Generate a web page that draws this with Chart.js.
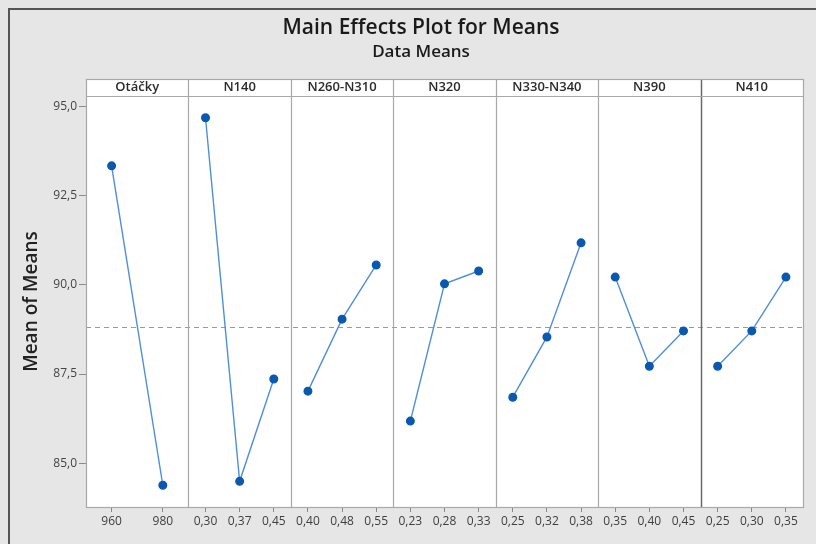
<!DOCTYPE html>
<html>
<head>
<meta charset="utf-8">
<script src="https://cdn.jsdelivr.net/npm/chart.js@4.4.1/dist/chart.umd.min.js"></script>
<style>
  html, body { margin: 0; padding: 0; background: #e6e6e6; overflow: hidden; width: 816px; height: 544px; }
  #frame { position: absolute; left: 8px; top: 8px; border-left: 2px solid #555; border-top: 2px solid #555; }
  canvas { display: block; }
</style>
</head>
<body>
<div id="frame"><canvas id="chart" width="822" height="534"></canvas></div>
<script>
// Faktory (panely) a jejich úrovně
const factors = ["Otáčky", "N140", "N260-N310", "N320", "N330-N340", "N390", "N410"];
const levels = [
  ["960", "980"],
  ["0,30", "0,37", "0,45"],
  ["0,40", "0,48", "0,55"],
  ["0,23", "0,28", "0,33"],
  ["0,25", "0,32", "0,38"],
  ["0,35", "0,40", "0,45"],
  ["0,25", "0,30", "0,35"]
];
// Průměry
const means = [
  [93.34, 84.38],
  [94.69, 84.49, 87.36],
  [87.02, 89.04, 90.56],
  [86.18, 90.03, 90.39],
  [86.85, 88.54, 91.18],
  [90.22, 87.72, 88.71],
  [87.72, 88.71, 90.22]
];
const grandMean = 88.83;
const yTicks = [85.0, 87.5, 90.0, 92.5, 95.0];
const titleText = "Main Effects Plot for Means";
const subtitleText = "Data Means";

const fontFam = "'Open Sans', 'Noto Sans', sans-serif";
const frameColor = "#a8a8a8";

// Datové řady, každá na vlastní ose x
const datasets = means.map((vals, i) => ({
  label: factors[i],
  data: vals,
  xAxisID: "x" + i,
  yAxisID: "y",
  borderColor: "#4f8fd8",
  borderWidth: 1.4,
  pointRadius: 3.8,
  pointBackgroundColor: "#0a59b0",
  pointBorderColor: "#0a59b0",
  tension: 0,
  fill: false
}));

const scales = {
  y: {
    type: "linear",
    min: 83.77,
    max: 95.3,
    afterBuildTicks: s => { s.ticks = yTicks.map(v => ({ value: v })); },
    afterFit: s => { s.width = 76; },
    ticks: {
      color: "#444",
      font: { family: fontFam, size: 12 },
      padding: 2,
      callback: v => v.toFixed(1).replace(".", ",")
    },
    grid: { display: true, drawOnChartArea: false, drawTicks: true, tickLength: 7, color: "#8a8a8a" },
    border: { display: false },
    title: {
      display: true,
      text: "Mean of Means",
      color: "#222",
      font: { family: fontFam, size: 19, weight: "600" },
      padding: { top: 10, bottom: 0 }
    }
  }
};
factors.forEach((f, i) => {
  scales["x" + i] = {
    type: "category",
    position: "bottom",
    stack: "panels",
    stackWeight: 1,
    labels: levels[i],
    offset: true,
    afterFit: s => { s.height = 37; },
    ticks: {
      color: "#3f3f3f",
      font: { family: fontFam, size: 12 },
      padding: 2,
      maxRotation: 0,
      autoSkip: false
    },
    grid: { display: true, offset: false, drawOnChartArea: false, drawTicks: true, tickLength: 5, color: "#8a8a8a" },
    border: { display: false }
  };
});

// Plugin: bílé pozadí panelů, záhlaví, oddělovače, referenční čára a nadpisy
const panelPlugin = {
  id: "panels",
  beforeDatasetsDraw(chart) {
    const { ctx, chartArea: a } = chart;
    const hTop = a.top - 17;
    ctx.save();
    ctx.fillStyle = "#ffffff";
    ctx.fillRect(a.left, hTop, a.right - a.left, a.bottom - hTop);
    // referenční čára
    const yPix = chart.scales.y.getPixelForValue(grandMean);
    ctx.strokeStyle = "#9a9a9a";
    ctx.lineWidth = 1;
    ctx.setLineDash([5, 4]);
    ctx.beginPath();
    ctx.moveTo(a.left, Math.round(yPix) + 0.5);
    ctx.lineTo(a.right, Math.round(yPix) + 0.5);
    ctx.stroke();
    ctx.setLineDash([]);
    // oddělovače panelů
    factors.forEach((f, i) => {
      const s = chart.scales["x" + i];
      if (i > 0) {
        ctx.strokeStyle = i === 6 ? "#6a6a6a" : frameColor;
        ctx.lineWidth = i === 6 ? 1.5 : 1.2;
        ctx.beginPath();
        ctx.moveTo(Math.round(s.left) + 0.5, hTop);
        ctx.lineTo(Math.round(s.left) + 0.5, a.bottom);
        ctx.stroke();
      }
      ctx.fillStyle = "#2a2a2a";
      ctx.font = "600 13px " + fontFam;
      ctx.textAlign = "center";
      ctx.textBaseline = "middle";
      ctx.fillText(f, (s.left + s.right) / 2, hTop + 8.5);
    });
    // rámeček
    ctx.strokeStyle = frameColor;
    ctx.lineWidth = 1.2;
    ctx.strokeRect(Math.round(a.left) + 0.5, hTop + 0.5, Math.round(a.right - a.left), Math.round(a.bottom - hTop));
    ctx.beginPath();
    ctx.moveTo(a.left, a.top + 0.5);
    ctx.lineTo(a.right, a.top + 0.5);
    ctx.stroke();
    // nadpis a podnadpis (středem celé figury)
    const cx = chart.width / 2;
    ctx.fillStyle = "#1a1a1a";
    ctx.textAlign = "center";
    ctx.textBaseline = "middle";
    ctx.font = "600 21px " + fontFam;
    ctx.fillText(titleText, cx, 18);
    ctx.font = "600 17px " + fontFam;
    ctx.fillText(subtitleText, cx, 42.5);
    ctx.restore();
  }
};

new Chart(document.getElementById("chart"), {
  type: "line",
  data: { datasets: datasets },
  options: {
    responsive: false,
    animation: false,
    layout: { padding: { left: 0, right: 29, top: 86, bottom: 0 } },
    plugins: {
      legend: { display: false },
      tooltip: { enabled: false },
      title: { display: false },
      subtitle: { display: false }
    },
    scales: scales
  },
  plugins: [panelPlugin]
});
</script>
</body>
</html>
